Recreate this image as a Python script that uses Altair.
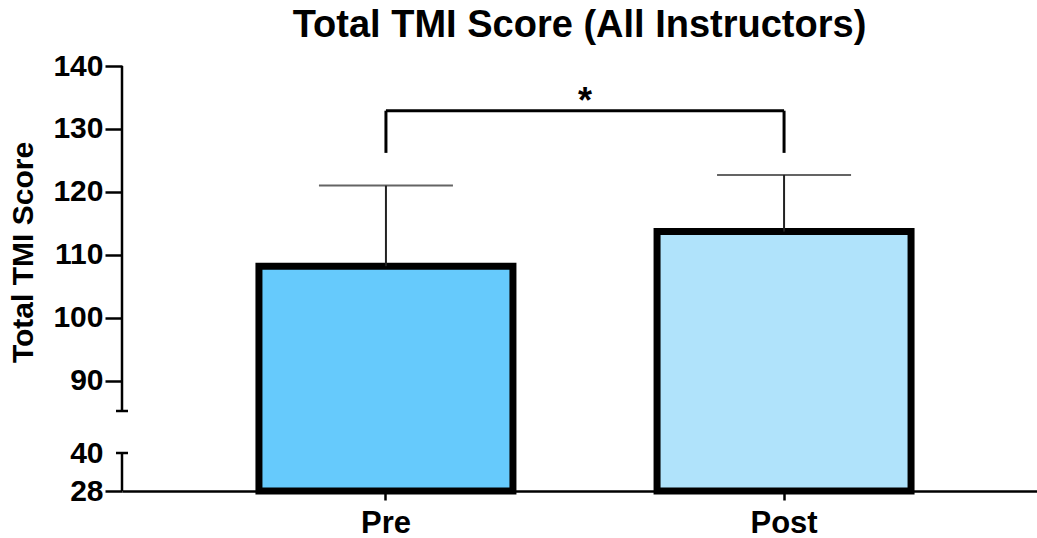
import altair as alt
import pandas as pd

# Group means and standard deviations
groups = ["Pre", "Post"]
means = [108.2, 113.7]
sds = [12.8, 9.0]
fills = ["#66CAFC", "#B0E3FB"]

# Significance bracket
bracket_top = 132.9
bracket_drop = 126.2
star_level = 134.3

# Broken y axis: lower and upper segments
seg_low = [28, 40]
seg_high = [85.2, 140]
tick_values = [28, 40, 90, 100, 110, 120, 130, 140]

FONT = "Liberation Sans"

bars_df = pd.DataFrame({
    "group": groups,
    "mean": means,
    "upper": [m + s for m, s in zip(means, sds)],
    "fill": fills,
})

bracket_h = pd.DataFrame({"a": [groups[0]], "b": [groups[1]], "y": [bracket_top]})
bracket_v = pd.DataFrame({"group": groups, "y": [bracket_drop] * 2, "y2": [bracket_top] * 2})
star_df = pd.DataFrame({"group": [groups[0]], "y": [star_level], "t": ["*"]})

segments = pd.DataFrame({"lo": [seg_low[0], seg_high[0]], "hi": [seg_low[1], seg_high[1]]})
caps = pd.DataFrame({"y": [seg_low[1], seg_high[0]]})

# piecewise scale squeezes the 40..85 gap into a short stretch
yscale = alt.Scale(domain=[28, 40, 85.2, 140], range=[425, 387, 345, 0], zero=False, nice=False)
xscale = alt.Scale(domain=groups, range=[0, 926], paddingInner=0.362, paddingOuter=0.344)

x_enc = alt.X(
    "group:N", scale=xscale, sort=groups, title=None,
    axis=alt.Axis(
        labelFont=FONT, labelFontSize=31, labelFontWeight="bold", labelColor="black",
        labelAngle=0, labelPadding=8, domainColor="black", domainWidth=2.5,
        tickColor="black", tickWidth=2.5, tickSize=9,
    ),
)

bars = alt.Chart(bars_df).mark_bar(stroke="black", strokeWidth=7).encode(
    x=x_enc,
    y=alt.Y(
        "mean:Q", scale=yscale, title="Total TMI Score",
        axis=alt.Axis(
            values=tick_values, domain=False, grid=False,
            labelFont=FONT, labelFontSize=30, labelFontWeight="bold", labelColor="black",
            labelPadding=2, tickSize=17, tickWidth=2.5,
            tickColor={"condition": {"test": "datum.value === 40", "value": "transparent"}, "value": "black"},
            titleFont=FONT, titleFontSize=30, titleFontWeight="bold", titleColor="black",
            titleX=-99, titleY=186, titleAlign="center", titleBaseline="middle",
        ),
    ),
    y2=alt.datum(28),
    fill=alt.Fill("fill:N", scale=None),
)

err = alt.Chart(bars_df).mark_rule(color="#222222", strokeWidth=2).encode(
    x=alt.X("group:N", scale=xscale, sort=groups),
    y=alt.Y("mean:Q", scale=yscale),
    y2="upper:Q",
)

caps_err = alt.Chart(bars_df).mark_tick(color="#222222", thickness=2, size=134).encode(
    x=alt.X("group:N", scale=xscale, sort=groups),
    y=alt.Y("upper:Q", scale=yscale),
)

br_h = alt.Chart(bracket_h).mark_rule(color="black", strokeWidth=3).encode(
    x=alt.X("a:N", scale=xscale, sort=groups),
    x2="b:N",
    y=alt.Y("y:Q", scale=yscale),
)

br_v = alt.Chart(bracket_v).mark_rule(color="black", strokeWidth=3).encode(
    x=alt.X("group:N", scale=xscale, sort=groups),
    y=alt.Y("y:Q", scale=yscale),
    y2="y2:Q",
)

star = alt.Chart(star_df).mark_text(
    font=FONT, fontSize=36, fontWeight="bold", color="black", dx=199, baseline="middle"
).encode(
    x=alt.X("group:N", scale=xscale, sort=groups),
    y=alt.Y("y:Q", scale=yscale),
    text="t:N",
)

axis_lines = alt.Chart(segments).mark_rule(color="black", strokeWidth=2.5).encode(
    x=alt.value(0),
    y=alt.Y("lo:Q", scale=yscale),
    y2="hi:Q",
)

axis_caps = alt.Chart(caps).mark_rule(color="black", strokeWidth=2.5).encode(
    x=alt.value(-6),
    x2=alt.value(6),
    y=alt.Y("y:Q", scale=yscale),
)

chart = alt.layer(bars, err, caps_err, br_h, br_v, star, axis_lines, axis_caps).properties(
    width=915,
    height=425,
    padding={"left": 122, "top": 66, "right": 0, "bottom": 47},
    autosize=alt.AutoSizeParams(type="none"),
    background="white",
    title=alt.TitleParams(
        "Total TMI Score (All Instructors)",
        font=FONT, fontSize=38, fontWeight="bold", color="black",
        anchor="middle", offset=6,
    ),
).configure_view(strokeWidth=0, stroke="transparent").configure_axis(grid=False)

chart.save("out.html", embed_options={"renderer": "svg", "actions": False})
